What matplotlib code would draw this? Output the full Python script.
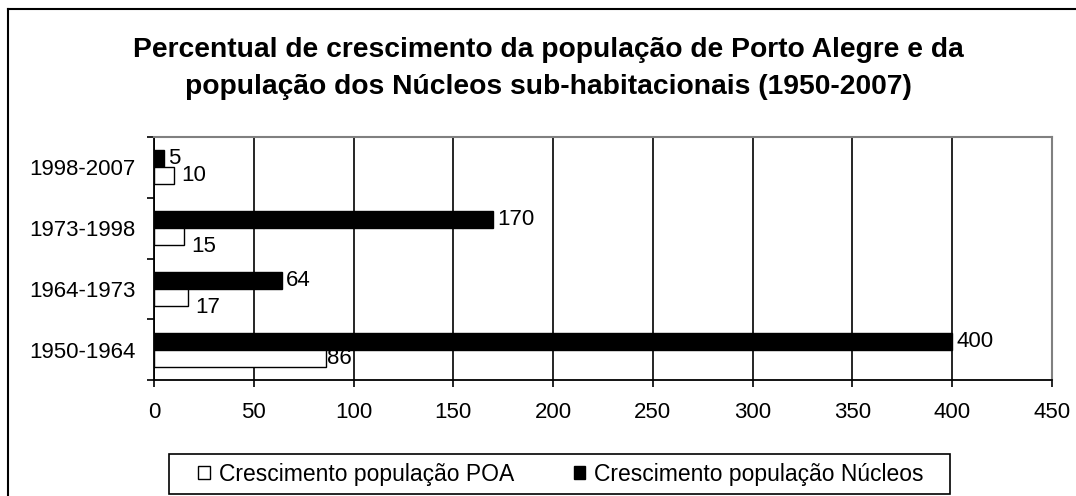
import matplotlib
matplotlib.use("Agg")
import matplotlib.pyplot as plt
from matplotlib.patches import Patch, Rectangle
from matplotlib.lines import Line2D

periods = ["1950-1964", "1964-1973", "1973-1998", "1998-2007"]
poa = [86, 17, 15, 10]
nucleos = [400, 64, 170, 5]
series_names = ["Crescimento população POA", "Crescimento população Núcleos"]
xticks = [0, 50, 100, 150, 200, 250, 300, 350, 400, 450]
title_lines = ["Percentual de crescimento da população de Porto Alegre e da",
               "população dos Núcleos sub-habitacionais (1950-2007)"]

plt.rcParams['font.family'] = ['Liberation Sans', 'DejaVu Sans']

W, H = 1076, 496
fig = plt.figure(figsize=(W/100, H/100), dpi=100)
ax = fig.add_axes([154/W, 1-380/H, (1052-154)/W, (380-137)/H])

h = 0.28
ypos = list(range(len(periods)))
ax.barh([y + h/2 for y in ypos], nucleos, height=h, color='black', edgecolor='black', linewidth=1, zorder=3)
ax.barh([y - h/2 for y in ypos], poa, height=h, color='white', edgecolor='black', linewidth=1, zorder=3)

fs = 16
for y, v in zip(ypos, nucleos):
    ax.annotate(str(v), (v, y + h/2), xytext=(3, 0), textcoords='offset points',
                va='center', ha='left', fontsize=fs, zorder=4)
for y, v in zip(ypos, poa):
    dy = -7 if v in (15, 17) else 0
    dx = 1 if v == 86 else 5
    ax.annotate(str(v), (v, y - h/2), xytext=(dx, dy), textcoords='offset points',
                va='center', ha='left', fontsize=fs, zorder=4)

ax.set_xlim(0, 450)
ax.set_ylim(-0.5, 3.5)
ax.set_xticks(xticks)
ax.set_xticklabels([str(t) for t in xticks], fontsize=fs)
ax.set_yticks(ypos)
ax.set_yticklabels(periods, fontsize=fs)
ax.set_yticks([-0.5, 0.5, 1.5, 2.5, 3.5], minor=True)
ax.tick_params(axis='y', which='major', length=0, pad=13)
ax.tick_params(axis='y', which='minor', length=5, width=1.2, direction='out')
ax.tick_params(axis='x', length=5, width=1.2, direction='out', pad=11)
ax.grid(axis='x', color='black', linewidth=1.2, zorder=1)
ax.set_axisbelow(True)
for s in ['left', 'bottom']:
    ax.spines[s].set_color('black')
    ax.spines[s].set_linewidth(1.3)
for s in ['top', 'right']:
    ax.spines[s].set_color('#808080')
    ax.spines[s].set_linewidth(1.5)

# title: two lines, baselines at ~57 and ~94 px
fig.text(548/W, 1-57/H, title_lines[0], ha='center', va='baseline', fontsize=20.3, fontweight='bold')
fig.text(548/W, 1-94/H, title_lines[1], ha='center', va='baseline', fontsize=20.3, fontweight='bold')

handles = [Patch(facecolor='white', edgecolor='black', linewidth=1),
           Patch(facecolor='black', edgecolor='black', linewidth=1)]
leg = fig.legend(handles, series_names, loc='center', bbox_to_anchor=(561/W, 1-474/H),
                 ncol=2, fontsize=16.5, frameon=False,
                 handlelength=0.5, handleheight=0.5, handletextpad=0.4, columnspacing=2.6,
                 borderpad=0.3, borderaxespad=0)
fig.add_artist(Rectangle((169/W, 1-494/H), (950-169)/W, 40/H, transform=fig.transFigure,
                         facecolor='none', edgecolor='black', linewidth=1.2))

fig.add_artist(Line2D([8/W, 8/W], [0, 1-9/H], color='black', linewidth=1.5, transform=fig.transFigure))
fig.add_artist(Line2D([8/W, 1], [1-9/H, 1-9/H], color='black', linewidth=1.5, transform=fig.transFigure))

fig.savefig("out.png", dpi=100, facecolor='white')
